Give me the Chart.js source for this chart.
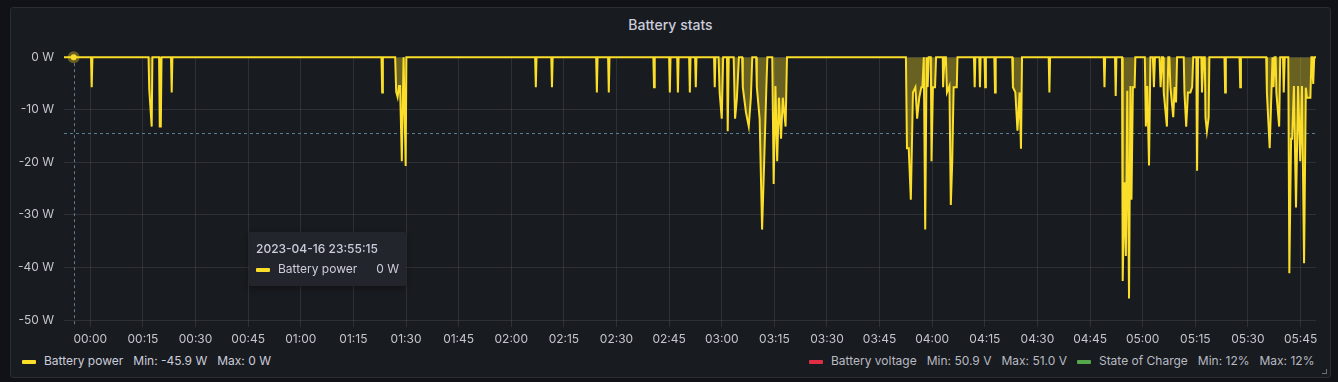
<!DOCTYPE html>
<html>
<head>
<meta charset="utf-8">
<script src="https://cdn.jsdelivr.net/npm/chart.js@4"></script>
<style>
  html, body { margin: 0; padding: 0; background: #111217; width: 1338px; height: 382px; overflow: hidden; font-family: Inter, "Open Sans", sans-serif; }
  .panel { position: absolute; left: 10px; top: 7px; width: 1319px; height: 369px; background: #181b1f; border: 1px solid #2a2d33; border-radius: 3px; }
  .title { position: absolute; left: 10px; top: 16px; width: 1321px; text-align: center; color: #ccccdc; font-size: 14px; font-weight: 500; line-height: 18px; }
  #chart { position: absolute; left: 10px; top: 40px; }
  .tip { position: absolute; left: 249px; top: 232px; width: 157px; height: 54px; background: #22252b; border-radius: 2px; box-shadow: 0 2px 6px rgba(0,0,0,0.35); color: #ccccdc; font-size: 12px; }
  .tip .when { position: absolute; left: 7px; top: 9px; font-weight: 500; }
  .tip .row { position: absolute; left: 7px; top: 29px; width: 143px; }
  .sw { display: inline-block; width: 14px; height: 4px; border-radius: 1px; vertical-align: middle; margin-right: 8px; }
  .tip .val { position: absolute; right: 0; top: 0; }
  .legend { position: absolute; top: 353px; font-size: 12px; color: #ccccdc; white-space: nowrap; line-height: 16px; }
  .legend .item { display: inline-block; margin-right: 10px; }
  .legend .stat { margin-left: 10px; }
  .legend.right .item { color: #b9bac3; }
  .corner { position: absolute; left: 1322px; top: 369px; width: 4px; height: 4px; border-right: 1px solid #6e7079; border-bottom: 1px solid #6e7079; }
</style>
</head>
<body>
<div class="panel"></div>
<div class="title">Battery stats</div>
<canvas id="chart" width="1318" height="310"></canvas>
<div class="tip">
  <div class="when">2023-04-16 23:55:15</div>
  <div class="row"><span class="sw" style="background:#fade2a"></span>Battery power<span class="val">0 W</span></div>
</div>
<div class="legend" style="left:22px" id="legendLeft"></div>
<div class="legend right" style="left:809px" id="legendRight"></div>
<div class="corner"></div>
<script>
// minutes relative to 2023-04-17 00:00
const times = [
  -7.5,
  0.2, 0.4, 0.6,
  16.6, 16.8, 17.5, 17.7,
  19.6, 19.8, 20.1, 20.3,
  23.0, 23.2, 23.4,
  83.0, 83.2, 83.4,
  86.9, 87.2, 87.6, 88.0, 88.3, 88.8, 89.3, 89.9, 90.1,
  126.8, 127.0, 127.2,
  131.4, 131.6, 131.8,
  144.2, 144.4, 144.6,
  147.6, 147.8, 148.0,
  160.5, 160.7, 160.9,
  165.0, 165.2, 165.4,
  167.3, 167.5, 167.7,
  170.7, 170.9, 171.1,
  172.4, 172.6, 172.8,
  177.8, 178.0, 178.2,
  179.1, 179.4, 180.0, 180.4, 181.5, 181.7, 182.0, 183.4, 183.8, 184.3, 184.9,
  185.8, 186.0, 186.9, 187.7, 188.3, 188.7, 189.8, 190.0, 190.8, 191.5, 192.1, 192.7, 193.0,
  194.4, 194.8, 195.3, 195.8, 196.3, 196.9, 197.4, 198.2, 198.6,
  232.5, 232.8, 233.3, 233.9, 234.5, 235.2, 235.7, 236.3, 236.9, 237.2, 237.6, 238.0, 238.4,
  238.7, 239.0, 239.6, 239.8, 240.2, 240.8, 241.1,
  243.0, 243.1, 243.5, 243.9, 244.2, 244.9, 245.3, 245.7, 246.1, 246.6, 247.0, 247.2,
  251.9, 252.1, 252.3,
  253.4, 253.6, 253.8,
  254.9, 255.1, 255.3,
  257.7, 257.9, 258.1,
  262.8, 263.0, 263.7, 264.3, 264.9, 265.3, 265.6,
  273.2, 273.4, 273.6,
  288.9, 289.1, 289.3,
  292.1, 292.3, 292.5,
  294.1, 294.3, 294.8, 295.2, 295.6, 296.1, 296.5, 296.8, 297.2, 297.7, 297.9,
  300.6, 300.9, 301.3, 301.8, 302.2, 302.9, 303.2, 303.5, 304.8, 305.1, 305.5,
  305.8, 306.0, 306.9, 307.3, 307.6, 307.9, 308.7, 309.1, 309.5, 309.8,
  311.7, 311.9, 312.4, 312.9, 313.6, 314.1, 314.4, 315.3, 315.5, 315.8,
  316.7, 316.9, 317.3, 317.7, 317.9, 318.3, 318.8, 319.0,
  323.3, 323.5, 323.7,
  327.6, 327.8, 328.0,
  335.2, 335.4, 336.2, 336.7, 337.0, 337.3, 337.6, 337.9, 338.1, 338.9, 339.2,
  340.0, 340.2, 340.5, 341.5, 341.8, 342.3, 342.6, 343.1, 343.7, 344.3, 344.9, 345.4,
  346.0, 346.5, 346.8, 347.8, 348.1, 348.3, 348.6, 348.9, 349.4
];
const power = [
  0,
  0, -5.7, 0,
  0, -6.1, -13.2, 0,
  0, -13.2, -13.2, 0,
  0, -6.7, 0,
  0, -6.7, 0,
  0, -6.6, -7.6, -5.5, -5.5, -19.8, 0, -20.7, 0,
  0, -5.7, 0,
  0, -5.7, 0,
  0, -6.7, 0,
  0, -6.7, 0,
  0, -5.7, 0,
  0, -6.7, 0,
  0, -6.7, 0,
  0, -6.7, 0,
  0, -5.7, 0,
  0, -5.7, 0,
  0, -6.7, -11.7, 0, 0, -14.1, 0, 0, -11.7, -8.0, 0,
  0, -5.7, -10.5, -13.2, -7.7, 0, 0, -5.7, -11.7, -32.8, -19.8, -6.1, 0,
  0, -24.1, -5.5, -19.8, -7.7, -15.5, -7.7, -13.2, 0,
  0, -17.3, -17.3, -27.1, -6.7, -5.7, -11.7, -7.7, -5.7, -5.7, 0, -32.8, 0,
  -5.7, 0, 0, -19.8, -5.7, -5.7, 0,
  0, -5.7, 0, 0, -6.7, -5.5, -28.1, -20.0, -5.7, -5.7, -5.7, 0,
  0, -5.7, 0,
  0, -5.7, 0,
  0, -5.7, 0,
  0, -6.7, 0,
  0, -5.7, -6.7, -14.0, -6.7, -17.4, 0,
  0, -6.7, 0,
  0, -5.7, 0,
  0, -7.4, 0,
  0, -42.6, -23.8, -37.8, -6.4, -45.9, -5.5, -27.1, -5.7, -5.7, 0,
  0, -13.2, -5.5, -20.6, 0, 0, -5.7, 0, 0, -5.7, 0,
  0, -6.7, -13.2, 0, 0, -5.7, -11.4, -5.7, -8.6, 0,
  0, -6.7, -13.2, -6.7, -6.7, -5.7, 0, 0, -21.6, 0,
  0, -6.7, 0, 0, -11.5, -14.1, -11.5, 0,
  0, -6.7, 0,
  0, -5.7, 0,
  0, -6.7, -17.3, -6.7, 0, -5.7, 0, 0, -6.7, -13.2, 0,
  0, -6.7, 0, 0, -41.1, -15.5, -15.5, -5.5, -28.6, -5.5, -19.8, -5.5,
  -39.2, -5.8, -7.7, -7.7, 0, 0, -5.1, 0, 0
];

const yTicks = [-50, -40, -30, -20, -10, 0];
const xRange = [-7.5, 349.4];

// hover state shown in the reference (crosshair + tooltip)
const hoverTime = -4.75;   // 23:55:15
const hoverValue = 0;
const cursorValue = -14.45;

// legend stats
const seriesNames = ['Battery power', 'Battery voltage', 'State of Charge'];
const seriesColors = ['#fade2a', '#e02f44', '#56a64b'];
const seriesMin = ['-45.9 W', '50.9 V', '12%'];
const seriesMax = ['0 W', '51.0 V', '12%'];

const legendHtml = (i) =>
  `<span class="item"><span class="sw" style="background:${seriesColors[i]}"></span>${seriesNames[i]}` +
  `<span class="stat">Min: ${seriesMin[i]}</span><span class="stat">Max: ${seriesMax[i]}</span></span>`;
document.getElementById('legendLeft').innerHTML = legendHtml(0);
document.getElementById('legendRight').innerHTML = legendHtml(1) + legendHtml(2);

const pad = (n) => String(n).padStart(2, '0');
const fmtTime = (m) => {
  const t = ((m % 1440) + 1440) % 1440;
  return pad(Math.floor(t / 60)) + ':' + pad(Math.round(t % 60));
};

const gridColor = 'rgba(204,204,220,0.12)';
const tickColor = '#c4c5cf';

const hoverPlugin = {
  id: 'hover',
  beforeDatasetsDraw(chart) {
    const { ctx, chartArea, scales: { x, y } } = chart;
    const px = Math.round(x.getPixelForValue(hoverTime)) + 0.5;
    const py = Math.round(y.getPixelForValue(cursorValue)) + 0.5;
    ctx.save();
    ctx.strokeStyle = '#5b7d92';
    ctx.lineWidth = 1;
    ctx.setLineDash([3, 3]);
    ctx.beginPath();
    ctx.moveTo(px, chartArea.top);
    ctx.lineTo(px, chartArea.bottom + 5);
    ctx.stroke();
    ctx.beginPath();
    ctx.moveTo(chartArea.left, py);
    ctx.lineTo(chartArea.right, py);
    ctx.stroke();
    ctx.restore();
  },
  afterDatasetsDraw(chart) {
    const { ctx, scales: { x, y } } = chart;
    const px = x.getPixelForValue(hoverTime);
    const py = y.getPixelForValue(hoverValue);
    ctx.save();
    ctx.fillStyle = 'rgba(250,222,42,0.35)';
    ctx.beginPath();
    ctx.arc(px, py, 6, 0, Math.PI * 2);
    ctx.fill();
    ctx.fillStyle = '#fade2a';
    ctx.beginPath();
    ctx.arc(px, py, 3, 0, Math.PI * 2);
    ctx.fill();
    ctx.restore();
  }
};

new Chart(document.getElementById('chart').getContext('2d'), {
  type: 'line',
  data: {
    datasets: [{
      label: seriesNames[0],
      data: times.map((t, i) => ({ x: t, y: power[i] })),
      borderColor: seriesColors[0],
      backgroundColor: 'rgba(250,222,42,0.36)',
      borderWidth: 2,
      fill: 'origin',
      tension: 0,
      pointRadius: 0,
      clip: 4
    }]
  },
  plugins: [hoverPlugin],
  options: {
    responsive: false,
    animation: false,
    events: [],
    layout: { padding: { top: 16, right: 12, left: 0, bottom: 0 } },
    plugins: { legend: { display: false }, tooltip: { enabled: false } },
    scales: {
      x: {
        type: 'linear',
        min: xRange[0],
        max: xRange[1],
        border: { display: false },
        grid: { color: gridColor, tickColor: gridColor, drawTicks: true, tickLength: 7 },
        afterFit: (s) => { s.height = 30; },
        ticks: {
          stepSize: 15,
          includeBounds: false,
          autoSkip: false,
          maxRotation: 0,
          padding: 5,
          color: tickColor,
          font: { family: 'Inter', size: 12 },
          callback: (v) => fmtTime(v)
        }
      },
      y: {
        min: yTicks[0],
        max: yTicks[yTicks.length - 1],
        border: { display: false },
        grid: { color: gridColor, drawTicks: false },
        afterFit: (s) => { s.width = 54; },
        afterBuildTicks: (s) => { s.ticks = yTicks.map((v) => ({ value: v })); },
        ticks: {
          padding: 10,
          color: tickColor,
          font: { family: 'Inter', size: 12 },
          callback: (v) => v + ' W'
        }
      }
    }
  }
});
</script>
</body>
</html>
